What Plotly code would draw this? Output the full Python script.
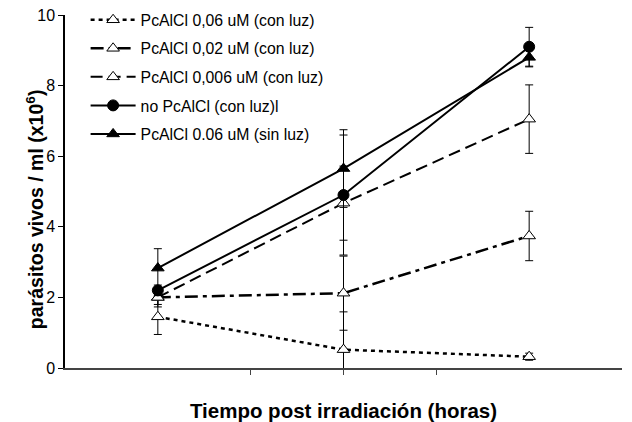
import plotly.graph_objects as go

x_times = [1, 2, 3]
names = ["PcAlCl 0,06 uM (con luz)", "PcAlCl 0,02 uM (con luz)", "PcAlCl 0,006 uM (con luz)",
         "no PcAlCl (con luz)l", "PcAlCl 0.06 uM (sin luz)"]
y_006_luz = [1.45, 0.52, 0.32]
e_006_luz = [0.5, 1.07, 0.1]
y_002_luz = [2.0, 2.12, 3.74]
e_002_luz = [0.27, 1.05, 0.7]
y_0006_luz = [2.0, 4.67, 7.05]
e_0006_luz = [0.2, 1.05, 0.97]
y_no = [2.2, 4.9, 9.1]
e_no = [0.15, 1.7, 0.55]
y_sin = [2.83, 5.65, 8.8]
e_sin = [0.55, 1.1, 0.27]

series = [
    (names[0], y_006_luz, e_006_luz, "4px,4px", 2.5, "triangle-up", "white"),
    (names[1], y_002_luz, e_002_luz, "13px,5px,4px,5px", 2.5, "triangle-up", "white"),
    (names[2], y_0006_luz, e_0006_luz, "12px,6px", 2, "triangle-up", "white"),
    (names[3], y_no, e_no, "solid", 2, "circle", "black"),
    (names[4], y_sin, e_sin, "solid", 2, "triangle-up", "black"),
]

fig = go.Figure()
for i, (nm, ys, es, dash, w, sym, fill) in enumerate(series):
    fig.add_trace(go.Scatter(
        x=x_times, y=ys, name=nm, mode="lines+markers", legendgroup=f"g{i}",
        line=dict(color="black", width=w, dash=dash),
        marker=dict(symbol=sym, size=11, color=fill, line=dict(color="black", width=1)),
        error_y=dict(type="data", array=es, visible=True, color="black", thickness=1, width=4),
    ))

fig.update_layout(
    width=624, height=414,
    margin=dict(l=57, r=10, t=7, b=54, autoexpand=False),
    paper_bgcolor="white", plot_bgcolor="white",
    font=dict(family="Liberation Sans, Arial", size=15, color="black"),
    showlegend=True,
    legend=dict(x=0.037, y=1.034, xanchor="left", yanchor="top", bgcolor="rgba(0,0,0,0)",
                font=dict(size=15.8), traceorder="grouped", tracegroupgap=5, itemwidth=45),
    xaxis=dict(range=[0.5, 3.5], showgrid=False, zeroline=False, showline=True,
               linecolor="#444", linewidth=1.5, ticks="outside", ticklen=5, tickcolor="#444",
               tickvals=[1.5, 2, 2.5], showticklabels=False,
               title=dict(text="<b>Tiempo post irradiación (horas)</b>", font=dict(size=20.5), standoff=34)),
    yaxis=dict(range=[0, 10], showgrid=False, zeroline=False, showline=True,
               linecolor="black", linewidth=1.5, ticks="outside", ticklen=5, tickcolor="black",
               tickvals=[0, 2, 4, 6, 8, 10], tickfont=dict(size=16), ticklabeloverflow="allow"),
)
fig.add_annotation(
    text="<b>parásitos vivos / ml (x10<sup>6</sup>)</b>", textangle=-90,
    xref="paper", yref="paper", x=0, y=0.45, xanchor="center", yanchor="middle",
    xshift=-30, showarrow=False, font=dict(size=19.5),
)

fig.write_html("out.html")
